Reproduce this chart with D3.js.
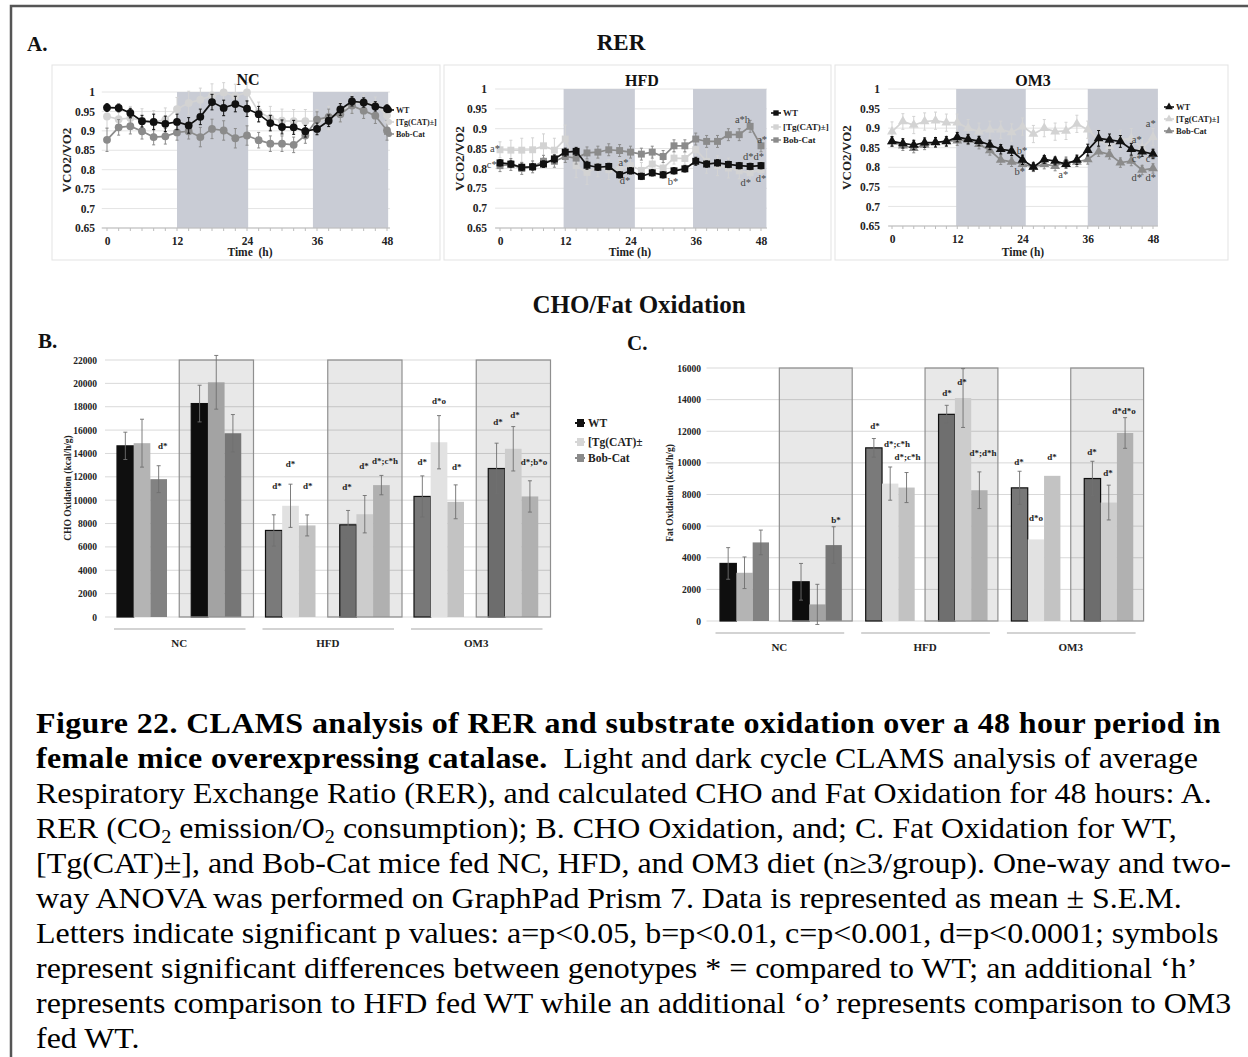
<!DOCTYPE html>
<html>
<head>
<meta charset="utf-8">
<script src="https://cdn.jsdelivr.net/npm/d3@7"></script>
<style>
  body { margin: 0; background: #fff; }
  text { white-space: pre; }
</style>
</head>
<body>
<script>
const FONT = "'Liberation Serif','Times New Roman',serif";

// ---- RER data (every 2 h, 0..48) ----
const hours = [0, 2, 4, 6, 8, 10, 12, 14, 16, 18, 20, 22, 24, 26, 28, 30, 32, 34, 36, 38, 40, 42, 44, 46, 48];
const hourTicks = [0, 12, 24, 36, 48];
const rerTicks = [0.65, 0.7, 0.75, 0.8, 0.85, 0.9, 0.95, 1];
const rerTickLabels = ['0.65', '0.7', '0.75', '0.8', '0.85', '0.9', '0.95', '1'];
const genotypes = ['WT', '[Tg(CAT)±]', 'Bob-Cat'];

const ncWT  = [0.960, 0.959, 0.946, 0.925, 0.923, 0.918, 0.923, 0.914, 0.936, 0.974, 0.959, 0.969, 0.957, 0.943, 0.920, 0.910, 0.909, 0.899, 0.905, 0.926, 0.955, 0.976, 0.973, 0.963, 0.957];
const ncTg  = [0.937, 0.930, 0.933, 0.927, 0.922, 0.929, 0.956, 0.972, 0.980, 0.991, 0.999, 0.990, 0.999, 0.949, 0.933, 0.926, 0.925, 0.925, 0.925, 0.933, 0.948, 0.970, 0.973, 0.967, 0.940];
const ncBob = [0.877, 0.909, 0.912, 0.899, 0.884, 0.886, 0.896, 0.899, 0.884, 0.905, 0.901, 0.881, 0.888, 0.876, 0.867, 0.867, 0.864, 0.888, 0.929, 0.936, 0.943, 0.965, 0.952, 0.939, 0.901];
const ncWTErr  = [0.010, 0.010, 0.012, 0.015, 0.020, 0.020, 0.020, 0.020, 0.020, 0.020, 0.020, 0.020, 0.020, 0.020, 0.020, 0.018, 0.018, 0.015, 0.015, 0.015, 0.015, 0.012, 0.012, 0.012, 0.010];
const ncTgErr  = [0.030, 0.025, 0.030, 0.030, 0.030, 0.030, 0.030, 0.030, 0.030, 0.030, 0.025, 0.030, 0.025, 0.025, 0.030, 0.030, 0.030, 0.030, 0.030, 0.030, 0.025, 0.025, 0.020, 0.020, 0.030];
const ncBobErr = [0.030, 0.020, 0.020, 0.020, 0.020, 0.020, 0.020, 0.020, 0.025, 0.025, 0.025, 0.025, 0.025, 0.020, 0.020, 0.020, 0.020, 0.020, 0.020, 0.020, 0.020, 0.020, 0.020, 0.020, 0.025];

const hfdWT  = [0.814, 0.811, 0.803, 0.804, 0.811, 0.824, 0.841, 0.843, 0.808, 0.803, 0.805, 0.784, 0.794, 0.780, 0.789, 0.784, 0.794, 0.799, 0.818, 0.811, 0.814, 0.810, 0.807, 0.805, 0.807];
const hfdTg  = [0.847, 0.846, 0.846, 0.847, 0.857, 0.846, 0.874, 0.807, 0.790, 0.804, 0.797, 0.797, 0.807, 0.795, 0.811, 0.801, 0.826, 0.825, 0.847, 0.818, 0.807, 0.801, 0.794, 0.789, 0.797];
const hfdBob = [0.807, 0.810, 0.800, 0.804, 0.818, 0.818, 0.830, 0.826, 0.839, 0.841, 0.847, 0.845, 0.841, 0.836, 0.841, 0.830, 0.857, 0.857, 0.874, 0.868, 0.868, 0.885, 0.885, 0.906, 0.857];
const hfdWTErr  = [0.008, 0.008, 0.008, 0.008, 0.008, 0.010, 0.010, 0.010, 0.010, 0.008, 0.008, 0.008, 0.008, 0.008, 0.008, 0.008, 0.008, 0.008, 0.010, 0.008, 0.008, 0.008, 0.008, 0.008, 0.008];
const hfdTgErr  = [0.020, 0.025, 0.030, 0.030, 0.030, 0.030, 0.035, 0.030, 0.030, 0.025, 0.025, 0.025, 0.025, 0.020, 0.020, 0.020, 0.015, 0.015, 0.020, 0.030, 0.025, 0.025, 0.020, 0.020, 0.020];
const hfdBobErr = [0.015, 0.015, 0.015, 0.015, 0.015, 0.015, 0.015, 0.015, 0.015, 0.015, 0.015, 0.015, 0.015, 0.015, 0.015, 0.015, 0.015, 0.015, 0.015, 0.015, 0.015, 0.015, 0.015, 0.015, 0.015];

const om3WT  = [0.866, 0.861, 0.857, 0.863, 0.864, 0.866, 0.877, 0.872, 0.867, 0.857, 0.846, 0.842, 0.819, 0.801, 0.820, 0.816, 0.808, 0.819, 0.844, 0.874, 0.870, 0.866, 0.846, 0.840, 0.834];
const om3Tg  = [0.891, 0.917, 0.908, 0.917, 0.919, 0.914, 0.914, 0.900, 0.891, 0.896, 0.896, 0.889, 0.904, 0.885, 0.900, 0.891, 0.893, 0.911, 0.896, 0.870, 0.853, 0.870, 0.874, 0.849, 0.877];
const om3Bob = [0.866, 0.855, 0.849, 0.857, 0.863, 0.867, 0.868, 0.870, 0.859, 0.843, 0.819, 0.814, 0.808, 0.801, 0.808, 0.803, 0.814, 0.814, 0.820, 0.840, 0.833, 0.812, 0.816, 0.793, 0.797];
const om3WTErr  = [0.012, 0.012, 0.012, 0.012, 0.012, 0.012, 0.012, 0.012, 0.012, 0.012, 0.012, 0.012, 0.012, 0.010, 0.010, 0.010, 0.010, 0.012, 0.015, 0.020, 0.015, 0.015, 0.015, 0.012, 0.012];
const om3TgErr  = [0.025, 0.020, 0.022, 0.022, 0.022, 0.022, 0.022, 0.022, 0.022, 0.022, 0.022, 0.022, 0.022, 0.022, 0.022, 0.022, 0.022, 0.022, 0.022, 0.025, 0.025, 0.025, 0.025, 0.025, 0.022];
const om3BobErr = [0.012, 0.012, 0.012, 0.012, 0.012, 0.012, 0.012, 0.012, 0.012, 0.012, 0.012, 0.012, 0.012, 0.012, 0.012, 0.012, 0.012, 0.012, 0.012, 0.012, 0.012, 0.012, 0.012, 0.012, 0.012];

// significance labels on the RER panels (hour, RER value, text)
const hfdNotes = [
  [0.0, 0.841, 'a*', 'end'], [-0.6, 0.801, 'c*', 'end'], [22.7, 0.806, 'a*'], [23.0, 0.761, 'd*'],
  [31.8, 0.758, 'b*'], [44.6, 0.914, 'a*h'], [48.2, 0.864, 'a*'], [46.6, 0.821, 'd*d*'],
  [45.2, 0.756, 'd*'], [48.0, 0.766, 'd*']
];
const om3Notes = [
  [23.9, 0.834, 'b*'], [23.5, 0.780, 'b*'], [31.5, 0.773, 'a*'], [45.0, 0.862, 'a*'], [47.6, 0.903, 'a*'],
  [45.0, 0.814, 'c*'], [47.6, 0.814, 'c*'], [45.0, 0.765, 'd*'], [47.6, 0.765, 'd*']
];

// ---- CHO / Fat oxidation bars ----
const barDiets = ['NC', 'NC', 'HFD', 'HFD', 'OM3', 'OM3'];
const barDark  = [false, true, false, true, false, true];
const dietLabels = ['NC', 'HFD', 'OM3'];
const barGenotypes = ['WT', '[Tg(CAT)±', 'Bob-Cat'];

const choWT  = [14650, 18270, 7410, 7890, 10320, 12710];
const choTg  = [14880, 20090, 9520, 8800, 14960, 14400];
const choBob = [11800, 15730, 7840, 11290, 9860, 10320];
const choWTErr  = [1170, 1570, 1340, 1230, 1760, 2170];
const choTgErr  = [2050, 2300, 1850, 1600, 2280, 1900];
const choBobErr = [1150, 1600, 900, 830, 1450, 1340];
const choTicks = [0, 2000, 4000, 6000, 8000, 10000, 12000, 14000, 16000, 18000, 20000, 22000];

const fatWT  = [3640, 2480, 10950, 13070, 8420, 9010];
const fatTg  = [3050, 1050, 8690, 14100, 5160, 7490];
const fatBob = [4970, 4800, 8440, 8270, 9180, 11890];
const fatWTErr  = [1000, 1160, 590, 570, 1050, 1090];
const fatTgErr  = [1000, 1270, 1050, 1860, 0, 1100];
const fatBobErr = [780, 1160, 950, 1160, 0, 970];
const fatTicks = [0, 2000, 4000, 6000, 8000, 10000, 12000, 14000, 16000];

// group index, bar position, value, label
const choNotes = [
  [0, 2.25, 14380, 'd*'], [2, 1.0, 12840, 'd*'], [2, 0.19, 10960, 'd*'], [2, 2.04, 10960, 'd*'],
  [3, -0.07, 10870, 'd*'], [3, 0.95, 12670, 'd*'], [3, 2.21, 13100, 'd*;c*h'],
  [4, 1.0, 18230, 'd*o'], [4, 0.0, 13010, 'd*'], [4, 2.07, 12580, 'd*'],
  [5, 0.08, 16440, 'd*'], [5, 1.1, 17030, 'd*'], [5, 2.24, 13010, 'd*;b*o']
];
const fatNotes = [
  [1, 2.14, 6200, 'b*'], [2, 0.07, 12140, 'd*'], [2, 1.42, 11000, 'd*;c*h'], [2, 2.06, 10180, 'd*;c*h'],
  [3, 0.02, 14230, 'd*'], [3, 0.94, 14920, 'd*'], [3, 2.22, 10430, 'd*;d*h'],
  [4, -0.03, 9870, 'd*'], [4, 1.0, 6320, 'd*o'], [4, 1.99, 10180, 'd*'],
  [5, -0.03, 10500, 'd*'], [5, 0.95, 9170, 'd*'], [5, 1.93, 13090, 'd*d*o']
];

const captionLines = [
  [{t: 'Figure 22. CLAMS analysis of RER and substrate oxidation over a 48 hour period in', b: true}],
  [{t: 'female mice overexpressing catalase.', b: true}, {t: '  Light and dark cycle CLAMS analysis of average'}],
  [{t: 'Respiratory Exchange Ratio (RER), and calculated CHO and Fat Oxidation for 48 hours: A.'}],
  [{t: 'RER (CO'}, {t: '2', sub: true}, {t: ' emission/O'}, {t: '2', sub: true}, {t: ' consumption); B. CHO Oxidation, and; C. Fat Oxidation for WT,'}],
  [{t: '[Tg(CAT)±], and Bob-Cat mice fed NC, HFD, and OM3 diet (n≥3/group). One-way and two-'}],
  [{t: 'way ANOVA was performed on GraphPad Prism 7. Data is represented as mean ± S.E.M.'}],
  [{t: 'Letters indicate significant p values: a=p<0.05, b=p<0.01, c=p<0.001, d=p<0.0001; symbols'}],
  [{t: 'represent significant differences between genotypes * = compared to WT; an additional ‘h’'}],
  [{t: 'represents comparison to HFD fed WT while an additional ‘o’ represents comparison to OM3'}],
  [{t: 'fed WT.'}]
];

const rerColors = ['#111111', '#d3d3d3', '#8b8b8b'];

const svg = d3.select('body').append('svg')
  .attr('width', 1248).attr('height', 1057)
  .style('font-family', FONT);

svg.append('rect')
  .attr('x', 11).attr('y', 6).attr('width', 1260).attr('height', 1070)
  .attr('fill', 'none').attr('stroke', '#555').attr('stroke-width', 2.5);

const heading = (x, y, size, txt, anchor) => svg.append('text')
  .attr('x', x).attr('y', y).attr('font-size', size).attr('font-weight', 'bold')
  .attr('text-anchor', anchor || 'start').attr('fill', '#111').text(txt);

heading(27, 51, 21, 'A.');
heading(621, 50, 23, 'RER', 'middle');
heading(639, 313, 25, 'CHO/Fat Oxidation', 'middle');
heading(38, 348, 21, 'B.');
heading(627, 350, 21, 'C.');

// ---------- RER line panels ----------
const drawRER = p => {
  const g = svg.append('g');
  const [bx0, by0, bx1, by1] = p.box;
  g.append('rect')
    .attr('x', bx0).attr('y', by0).attr('width', bx1 - bx0).attr('height', by1 - by0)
    .attr('fill', '#fff').attr('stroke', '#e3e3e3');

  const x = d3.scaleLinear().domain([0, 48]).range([p.x0, p.x48]);
  const y = d3.scaleLinear().domain([0.65, 1]).range([p.yBot, p.yTop]);
  const xl = x(p.xExt[0]), xr = x(p.xExt[1]);

  g.selectAll('line.grid').data(rerTicks).join('line')
    .attr('class', 'grid')
    .attr('x1', xl).attr('x2', xr)
    .attr('y1', d => y(d)).attr('y2', d => y(d))
    .attr('stroke', '#e4e4e4');

  g.selectAll('rect.shade').data(p.shades).join('rect')
    .attr('class', 'shade')
    .attr('x', d => x(d[0])).attr('width', d => x(d[1]) - x(d[0]))
    .attr('y', y(1)).attr('height', y(0.65) - y(1))
    .attr('fill', '#c9ccd5');

  g.append('line')
    .attr('x1', xl).attr('x2', xr).attr('y1', y(0.65)).attr('y2', y(0.65))
    .attr('stroke', '#bdbdbd');
  g.selectAll('line.minor').data(hours).join('line')
    .attr('class', 'minor')
    .attr('x1', d => x(d)).attr('x2', d => x(d))
    .attr('y1', y(0.65)).attr('y2', y(0.65) + 3)
    .attr('stroke', '#bdbdbd');

  const ya = g.append('g')
    .attr('transform', `translate(${xl},0)`)
    .call(d3.axisLeft(y).tickValues(rerTicks)
      .tickFormat((d, i) => rerTickLabels[i])
      .tickSize(0).tickPadding(xl - p.tickRight));
  ya.select('.domain').remove();
  ya.attr('font-family', FONT).attr('font-size', 11.5).attr('font-weight', 'bold');
  ya.selectAll('text').attr('fill', '#222');

  const xa = g.append('g')
    .attr('transform', `translate(0,${y(0.65)})`)
    .call(d3.axisBottom(x).tickValues(hourTicks).tickSize(0).tickPadding(9));
  xa.select('.domain').remove();
  xa.attr('font-family', FONT).attr('font-size', 11.5).attr('font-weight', 'bold');
  xa.selectAll('text').attr('fill', '#222');

  const sym = d3.symbol().type(p.symbol).size(p.symSize);
  const smallSym = d3.symbol().type(p.symbol).size(p.symSize * 0.6);
  const line = d3.line().x((d, j) => x(hours[j])).y(d => y(d));

  [1, 2, 0].forEach(i => {
    const vals = p.series[i], errs = p.errs[i], col = rerColors[i];
    const sg = g.append('g');
    const eb = sg.selectAll('g.err').data(vals).join('g').attr('class', 'err');
    eb.append('line')
      .attr('x1', (d, j) => x(hours[j])).attr('x2', (d, j) => x(hours[j]))
      .attr('y1', (d, j) => y(d - errs[j])).attr('y2', (d, j) => y(d + errs[j]))
      .attr('stroke', col).attr('stroke-width', 1);
    [-1, 1].forEach(sgn => {
      eb.append('line')
        .attr('x1', (d, j) => x(hours[j]) - 1.5).attr('x2', (d, j) => x(hours[j]) + 1.5)
        .attr('y1', (d, j) => y(d + sgn * errs[j])).attr('y2', (d, j) => y(d + sgn * errs[j]))
        .attr('stroke', col).attr('stroke-width', 1);
    });
    sg.append('path').datum(vals)
      .attr('d', line).attr('fill', 'none')
      .attr('stroke', col).attr('stroke-width', 1.7);
    sg.selectAll('path.pt').data(vals).join('path')
      .attr('class', 'pt')
      .attr('d', sym)
      .attr('transform', (d, j) => `translate(${x(hours[j])},${y(d)})`)
      .attr('fill', col);
  });

  g.append('text')
    .attr('x', p.titleX).attr('y', p.titleY)
    .attr('text-anchor', 'middle').attr('font-size', 16).attr('font-weight', 'bold')
    .attr('fill', '#111').text(p.name);
  g.append('text')
    .attr('x', p.timeX).attr('y', 256)
    .attr('text-anchor', 'middle').attr('font-size', 11.5).attr('font-weight', 'bold')
    .attr('fill', '#222').text(p.timeLabel);
  g.append('text')
    .attr('transform', `translate(${p.ylabX},${(p.yTop + p.yBot) / 2}) rotate(-90)`)
    .attr('text-anchor', 'middle').attr('dy', '0.35em')
    .attr('font-size', 13).attr('font-weight', 'bold')
    .attr('fill', '#222').text('VCO2/VO2');

  genotypes.forEach((name, i) => {
    const ly = p.legY[i];
    g.append('line')
      .attr('x1', p.legX).attr('x2', p.legX + 10).attr('y1', ly).attr('y2', ly)
      .attr('stroke', rerColors[i]).attr('stroke-width', 1.6);
    g.append('path')
      .attr('d', smallSym).attr('transform', `translate(${p.legX + 5},${ly})`)
      .attr('fill', rerColors[i]);
    g.append('text')
      .attr('x', p.legX + 12).attr('y', ly).attr('dy', '0.35em')
      .attr('font-size', p.legFont).attr('font-weight', 'bold')
      .attr('fill', '#222').text(name);
  });

  g.selectAll('text.note').data(p.notes).join('text')
    .attr('class', 'note')
    .attr('x', d => x(d[0])).attr('y', d => y(d[1]))
    .attr('text-anchor', d => d[3] || 'middle')
    .attr('font-size', 10.5).attr('fill', '#444')
    .text(d => d[2]);
};

drawRER({
  name: 'NC', box: [52, 65, 440, 260], x0: 107, x48: 387, yTop: 92, yBot: 228,
  xExt: [-0.9, 48.5], tickRight: 95, ylabX: 66, titleX: 248, titleY: 85,
  timeX: 250, timeLabel: 'Time  (h)',
  legX: 384, legY: [110, 122, 134], legFont: 8,
  shades: [[12, 24.2], [35.3, 48.2]],
  symbol: d3.symbolCircle, symSize: 48,
  series: [ncWT, ncTg, ncBob], errs: [ncWTErr, ncTgErr, ncBobErr], notes: []
});
drawRER({
  name: 'HFD', box: [444, 65, 831, 260], x0: 500, x48: 761, yTop: 89, yBot: 228,
  xExt: [-0.9, 49.1], tickRight: 487, ylabX: 459, titleX: 642, titleY: 86,
  timeX: 630, timeLabel: 'Time (h)',
  legX: 771, legY: [113, 127, 140], legFont: 9,
  shades: [[11.7, 24.8], [35.5, 49]],
  symbol: d3.symbolSquare, symSize: 48,
  series: [hfdWT, hfdTg, hfdBob], errs: [hfdWTErr, hfdTgErr, hfdBobErr], notes: hfdNotes
});
drawRER({
  name: 'OM3', box: [835, 65, 1228, 260], x0: 892, x48: 1153, yTop: 89, yBot: 226,
  xExt: [-0.7, 48.9], tickRight: 880, ylabX: 846, titleX: 1033, titleY: 86,
  timeX: 1023, timeLabel: 'Time (h)',
  legX: 1164, legY: [107, 119, 131], legFont: 8.5,
  shades: [[11.8, 24.6], [36, 48.9]],
  symbol: d3.symbolTriangle, symSize: 42,
  series: [om3WT, om3Tg, om3Bob], errs: [om3WTErr, om3TgErr, om3BobErr], notes: om3Notes
});

// ---------- oxidation bar panels ----------
const barFill = {
  NC:  ['#0f0f0f', '#b4b4b4', '#828282'],
  HFD: ['#7a7a7a', '#e1e1e1', '#c2c2c2'],
  OM3: ['#787878', '#e2e2e2', '#c3c3c3']
};

const drawBars = p => {
  const g = svg.append('g');
  const x0 = d3.scaleBand().domain(d3.range(barDiets.length)).range([p.left, p.right]);
  const x1 = d3.scaleBand().domain(d3.range(3)).range([p.barStart, p.barEnd]);
  const y = d3.scaleLinear().domain([0, p.max]).range([p.bottom, p.top]);

  g.selectAll('line.grid').data(p.ticks).join('line')
    .attr('class', 'grid')
    .attr('x1', p.left).attr('x2', p.right)
    .attr('y1', d => y(d)).attr('y2', d => y(d))
    .attr('stroke', '#d9d9d9');

  const ya = g.append('g')
    .attr('transform', `translate(${p.left},0)`)
    .call(d3.axisLeft(y).tickValues(p.ticks).tickFormat(d3.format('d'))
      .tickSize(0).tickPadding(p.left - p.tickRight));
  ya.select('.domain').remove();
  ya.attr('font-family', FONT).attr('font-size', 9.5).attr('font-weight', 'bold');
  ya.selectAll('text').attr('fill', '#222');

  const vals = [p.wt, p.tg, p.bob], errs = [p.wtErr, p.tgErr, p.bobErr];
  barDiets.forEach((diet, gi) => {
    const gx = x0(gi);
    vals.forEach((arr, k) => {
      g.append('rect')
        .attr('x', gx + x1(k)).attr('width', x1.bandwidth())
        .attr('y', y(arr[gi])).attr('height', y(0) - y(arr[gi]))
        .attr('fill', barFill[diet][k])
        .attr('stroke', k === 0 ? '#111' : 'none').attr('stroke-width', 1.2);
    });
  });

  g.selectAll('rect.dark').data(d3.range(barDiets.length).filter(i => barDark[i])).join('rect')
    .attr('class', 'dark')
    .attr('x', d => x0(d)).attr('width', x0.bandwidth())
    .attr('y', y(p.max)).attr('height', y(0) - y(p.max))
    .attr('fill', 'rgba(0,0,0,0.09)').attr('stroke', '#8f8f8f').attr('stroke-width', 1.2);

  barDiets.forEach((diet, gi) => {
    vals.forEach((arr, k) => {
      const e = errs[k][gi];
      if (!e) return;
      const cx = x0(gi) + x1(k) + x1.bandwidth() / 2;
      g.append('line')
        .attr('x1', cx).attr('x2', cx)
        .attr('y1', y(arr[gi] - e)).attr('y2', y(arr[gi] + e))
        .attr('stroke', '#6f6f6f').attr('stroke-width', 0.9);
      [-1, 1].forEach(s => g.append('line')
        .attr('x1', cx - 2).attr('x2', cx + 2)
        .attr('y1', y(arr[gi] + s * e)).attr('y2', y(arr[gi] + s * e))
        .attr('stroke', '#6f6f6f').attr('stroke-width', 0.9));
    });
  });

  g.selectAll('text.note').data(p.notes).join('text')
    .attr('class', 'note')
    .attr('x', d => x0(d[0]) + p.barStart + x1.bandwidth() * (d[1] + 0.5))
    .attr('y', d => y(d[2]))
    .attr('text-anchor', 'middle')
    .attr('font-size', 9).attr('font-weight', 'bold').attr('fill', '#222')
    .text(d => d[3]);

  dietLabels.forEach((lab, i) => {
    const a = x0(2 * i), b = x0(2 * i + 1) + x0.bandwidth();
    g.append('line')
      .attr('x1', a + 9).attr('x2', b - 8)
      .attr('y1', p.bottom + 12).attr('y2', p.bottom + 12)
      .attr('stroke', '#c4c4c4').attr('stroke-width', 1.5);
    g.append('text')
      .attr('x', x0(2 * i + 1)).attr('y', p.bottom + 30)
      .attr('text-anchor', 'middle')
      .attr('font-size', 11).attr('font-weight', 'bold').attr('fill', '#222')
      .text(lab);
  });

  g.append('text')
    .attr('transform', `translate(${p.ylabX},${p.ylabY}) rotate(-90)`)
    .attr('text-anchor', 'middle').attr('dy', '0.35em')
    .attr('font-size', 9.5).attr('font-weight', 'bold').attr('fill', '#222')
    .text(p.ylabel);

  if (p.legend) {
    const legCol = ['#111111', '#d6d6d6', '#8a8a8a'];
    barGenotypes.forEach((name, i) => {
      const ly = p.legend.y[i];
      g.append('line')
        .attr('x1', p.legend.x).attr('x2', p.legend.x + 10)
        .attr('y1', ly).attr('y2', ly)
        .attr('stroke', legCol[i]).attr('stroke-width', 2);
      g.append('rect')
        .attr('x', p.legend.x + 2).attr('y', ly - 4).attr('width', 7).attr('height', 8)
        .attr('fill', legCol[i]);
      g.append('text')
        .attr('x', p.legend.x + 13).attr('y', ly).attr('dy', '0.35em')
        .attr('font-size', 11.5).attr('font-weight', 'bold').attr('fill', '#222')
        .text(name);
    });
  }
};

drawBars({
  left: 105, right: 550.5, top: 360, bottom: 617, max: 22000, ticks: choTicks,
  tickRight: 97, barStart: 12, barEnd: 62,
  ylabX: 68, ylabY: 488, ylabel: 'CHO Oxidation (kcal/h/g)',
  wt: choWT, tg: choTg, bob: choBob, wtErr: choWTErr, tgErr: choTgErr, bobErr: choBobErr,
  notes: choNotes,
  legend: {x: 575, y: [423, 442, 458]}
});
drawBars({
  left: 706.5, right: 1143.6, top: 368, bottom: 621, max: 16000, ticks: fatTicks,
  tickRight: 701, barStart: 13.5, barEnd: 62.5,
  ylabX: 670, ylabY: 493, ylabel: 'Fat Oxidation (kcal/h/g)',
  wt: fatWT, tg: fatTg, bob: fatBob, wtErr: fatWTErr, tgErr: fatTgErr, bobErr: fatBobErr,
  notes: fatNotes
});

// ---------- caption ----------
const capG = svg.append('g').attr('font-size', 28.5).attr('fill', '#000');
const capTexts = captionLines.map((segs, i) => {
  const t = capG.append('text').attr('x', 0).attr('y', 733 + 35 * i);
  segs.forEach((s, k) => {
    const ts = t.append('tspan').text(s.t);
    if (s.b) ts.attr('font-weight', 'bold').attr('letter-spacing', 0.35);
    if (s.sub) ts.attr('font-size', 18).attr('dy', 5);
    else if (k > 0 && segs[k - 1].sub) ts.attr('dy', -5);
  });
  return t;
});
const refLen = capTexts[8].node().getComputedTextLength();
const sx = (1232 - 36) / refLen;
capG.attr('transform', `translate(36,0) scale(${sx},1)`);
</script>
</body>
</html>
